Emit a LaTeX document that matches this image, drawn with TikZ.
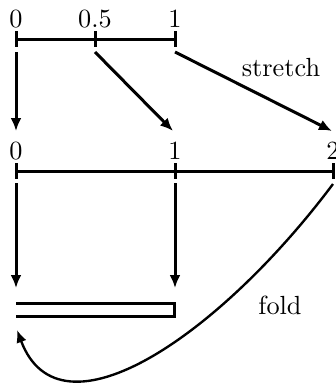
\documentclass[tikz,border=0pt]{standalone}
\usetikzlibrary{arrows.meta}
\begin{document}
\begin{tikzpicture}[x=0.4pt,y=-0.4pt,
  seg/.style={line width=1.2pt},
  arr/.style={line width=1.2pt,-{Latex[length=5.2pt,width=4.4pt]}},
  carr/.style={line width=0.95pt,-{Latex[length=5pt,width=4.2pt]}},
  lbl/.style={inner sep=0pt,anchor=base,font=\fontsize{10.5}{12}\selectfont},
  word/.style={inner sep=0pt,font=\fontsize{10.5}{12}\selectfont}]
\useasboundingbox (0,0) rectangle (335,387);
% top segment
\coordinate (a0) at (16,39);
\coordinate (a5) at (95,39);
\coordinate (a1) at (175,39);
\draw[seg] (a0) -- (a1);
\foreach \p in {a0,a5,a1} \draw[seg] ([yshift=8*0.4pt]\p) -- ([yshift=-8*0.4pt]\p);
\node[lbl] (la0) at (16,27) {0};
\node[lbl] (la5) at (95,27) {0.5};
\node[lbl] (la1) at (175,27) {1};
% middle segment
\coordinate (b0) at (16,171);
\coordinate (b1) at (175,171);
\coordinate (b2) at (333,171);
\draw[seg] (b0) -- (b2);
\foreach \p in {b0,b1,b2} \draw[seg] ([yshift=8*0.4pt]\p) -- ([yshift=-8*0.4pt]\p);
\node[lbl] (lb0) at (16,159) {0};
\node[lbl] (lb1) at (175,159) {1};
\node[lbl] (lb2) at (333,159) {2};
% stretch arrows
\coordinate (s0) at (16,52);  \coordinate (e0) at (16,131);
\coordinate (s5) at (95,52);  \coordinate (e5) at (173,131);
\coordinate (s1) at (175,52); \coordinate (e1) at (332,131);
\draw[arr] (s0) -- (e0);
\draw[arr] (s5) -- (e5);
\draw[arr] (s1) -- (e1);
\node[word] (stretch) at (281,68) {stretch};
% fold arrows
\coordinate (f0) at (16,183);  \coordinate (g0) at (16,288);
\coordinate (f1) at (175,183); \coordinate (g1) at (175,288);
\draw[arr] (f0) -- (g0);
\draw[arr] (f1) -- (g1);
% folded strip
\coordinate (t0) at (16,303);
\coordinate (t1) at (174,303);
\coordinate (u1) at (174,316);
\coordinate (u0) at (16,316);
\draw[seg] (t0) -- (t1) -- (u1) -- (u0);
\node[word] (fold) at (280,305) {fold};
% fold curve
\coordinate (c0) at (333,184);
\coordinate (c1) at (17,330);
\draw[carr] (c0) .. controls (220,335) and (60,445) .. (c1);
\end{tikzpicture}
\end{document}
